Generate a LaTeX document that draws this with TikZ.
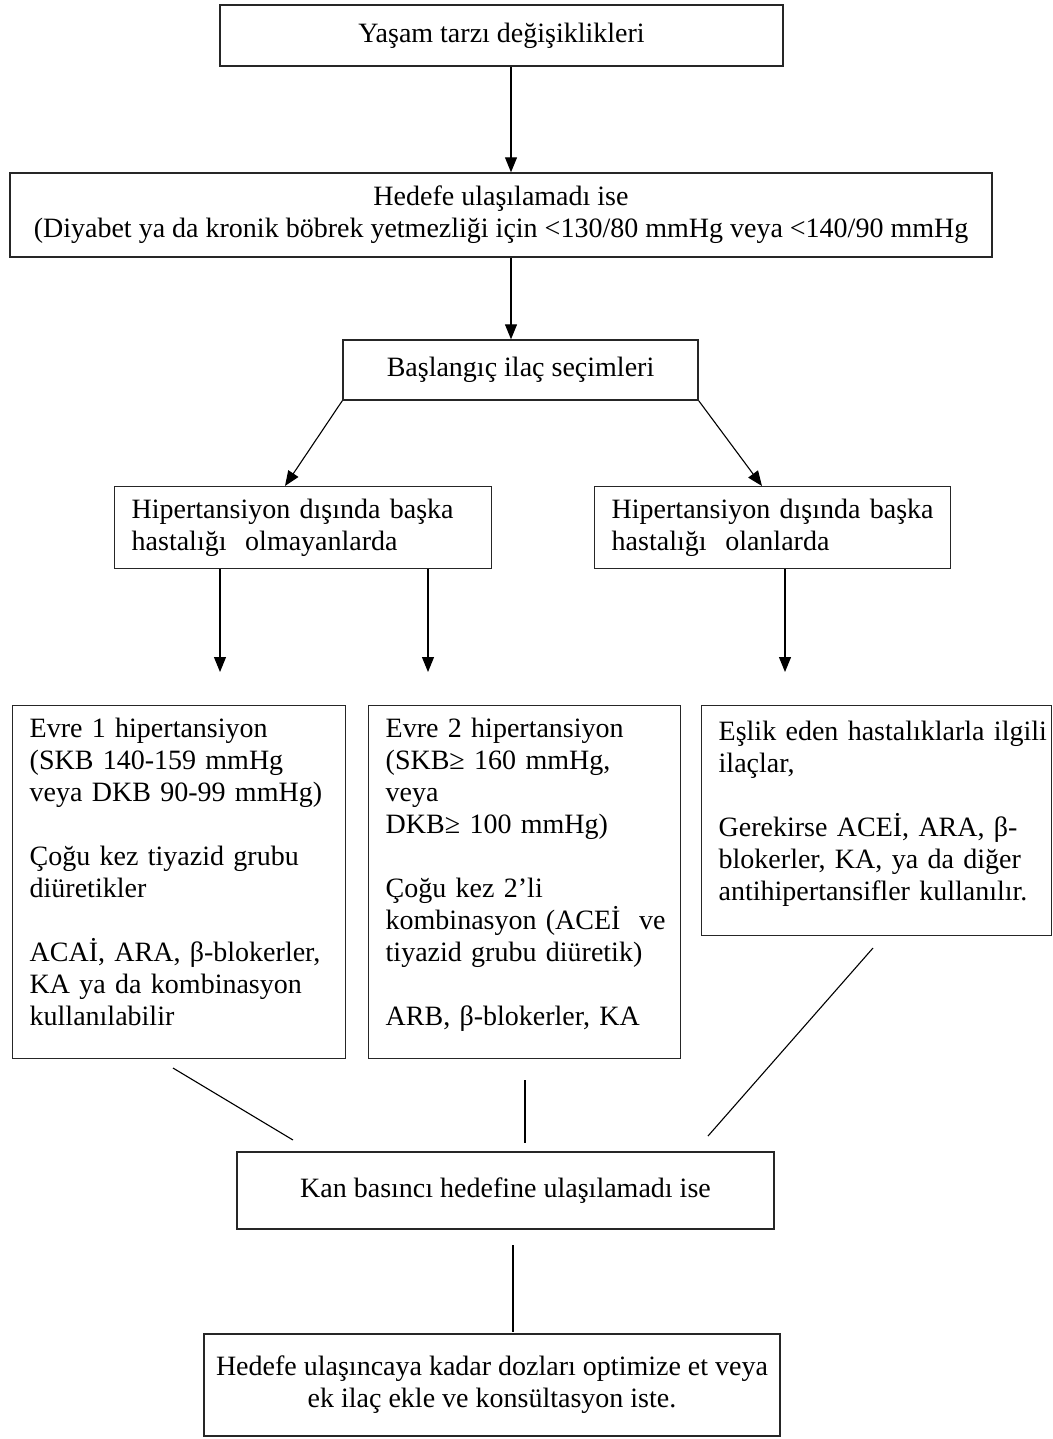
\documentclass[tikz,border=0pt]{standalone}
\usepackage{fontspec}
\setmainfont{Liberation Serif}
\usetikzlibrary{arrows.meta,positioning}

\begin{document}
\begin{tikzpicture}[
  x=1pt, y=-1pt,
  font=\fontsize{28}{32}\selectfont,
  box/.style={
    draw=black!85, line width=1.4pt, align=center, inner sep=0pt
  },
  textbox/.style={
    box, anchor=north west, align=left, inner xsep=17pt, inner ysep=0pt
  },
  arrow/.style={-{Triangle[length=15pt,width=12pt]}, line width=1.1pt},
  link/.style={line width=1.1pt},
]
  \useasboundingbox (0,0) rectangle (1052,1439);

  % Ust kutular
  \node[box, minimum width=563pt, minimum height=61pt] (lifestyle) at (501.5,35.5)
    {Yaşam tarzı değişiklikleri};
  \node[box, minimum width=982pt, minimum height=84pt] (goal) at (501,215)
    {Hedefe ulaşılamadı ise\\(Diyabet ya da kronik böbrek yetmezliği için <130/80 mmHg veya <140/90 mmHg};
  \node[box, minimum width=355pt, minimum height=60pt] (initial) at (520.5,370)
    {Başlangıç ilaç seçimleri};

  % Hastalik durumuna gore ayrim
  \node[textbox, text width=343pt, minimum height=82pt] (nodis) at (114,486)
    {Hipertansiyon dışında başka\\hastalığı \ olmayanlarda};
  \node[textbox, text width=322pt, minimum height=82pt] (withdis) at (594,486)
    {Hipertansiyon dışında başka\\hastalığı \ olanlarda};

  % Tedavi kutulari
  \node[textbox, text width=299pt, minimum height=353pt, text depth=308pt] (stage1) at (12,705)
    {Evre 1 hipertansiyon\\(SKB 140-159 mmHg\\veya DKB 90-99 mmHg)\\[32pt]%
     Çoğu kez tiyazid grubu\\diüretikler\\[32pt]%
     \mbox{ACAİ, ARA, β-blokerler,}\\KA ya da kombinasyon\\kullanılabilir};
  \node[textbox, text width=278pt, minimum height=353pt, text depth=308pt] (stage2) at (368,705)
    {Evre 2 hipertansiyon\\(SKB≥ 160 mmHg,\\veya\\DKB≥ 100 mmHg)\\[32pt]%
     Çoğu kez 2’li\\\mbox{kombinasyon (ACEİ \ ve}\\\mbox{tiyazid grubu diüretik)}\\[32pt]%
     ARB, β-blokerler, KA};
  \node[textbox, text width=316pt, minimum height=230pt, text depth=180pt] (comorb) at (701,705)
    {\mbox{Eşlik eden hastalıklarla ilgili}\\ilaçlar,\\[32pt]%
     Gerekirse ACEİ, ARA, β-\\blokerler, KA, ya da diğer\\\mbox{antihipertansifler kullanılır.}};

  % Alt kutular
  \node[box, minimum width=537pt, minimum height=77pt] (notreached) at (505.5,1190.5)
    {Kan basıncı hedefine ulaşılamadı ise};
  \node[box, minimum width=576pt, minimum height=102pt] (optimize) at (492,1385)
    {Hedefe ulaşıncaya kadar dozları optimize et veya\\ek ilaç ekle ve konsültasyon iste.};

  % Serbest uclar
  \coordinate (tipA) at (220,672);
  \coordinate (tipB) at (428,672);
  \coordinate (tipC) at (785,672);
  \coordinate (s1a) at (173,1068);
  \coordinate (s1b) at (293,1140);
  \coordinate (s2a) at (525,1080);
  \coordinate (s2b) at (525,1143);
  \coordinate (s3a) at (873,948);
  \coordinate (s3b) at (708,1136);
  \coordinate (s4a) at (513,1245);
  \coordinate (s4b) at (513,1332);

  % Oklar
  \draw[arrow] ([xshift=9.5pt]lifestyle.south) -- ([xshift=10pt]goal.north);
  \draw[arrow] ([xshift=10pt]goal.south) -- ([xshift=-9.5pt]initial.north);
  \draw[arrow] (initial.south west) -- ([xshift=171pt]nodis.north west);
  \draw[arrow] (initial.south east) -- ([xshift=168pt]withdis.north west);
  \draw[arrow] ([xshift=106pt]nodis.south west) -- (tipA);
  \draw[arrow] ([xshift=314pt]nodis.south west) -- (tipB);
  \draw[arrow] ([xshift=191pt]withdis.south west) -- (tipC);

  % Birlesen cizgiler
  \draw[link] (s1a) -- (s1b);
  \draw[link] (s2a) -- (s2b);
  \draw[link] (s3a) -- (s3b);
  \draw[link] (s4a) -- (s4b);
\end{tikzpicture}
\end{document}
